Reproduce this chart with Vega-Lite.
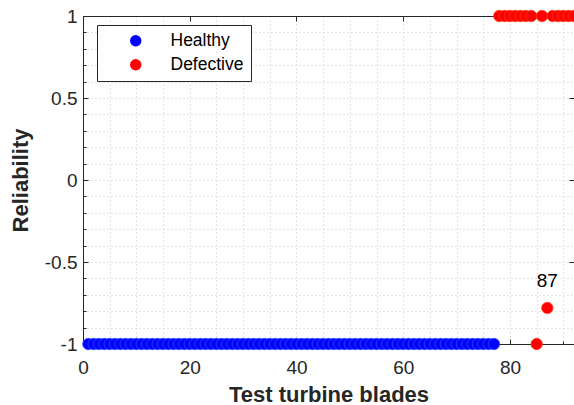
{
  "$schema": "https://vega.github.io/schema/vega-lite/v6.json",
  "width": 491,
  "height": 328,
  "autosize": {"type": "none"},
  "padding": {"left": 83, "top": 16, "right": 0, "bottom": 61},
  "background": "white",
  "config": {
    "view": {"stroke": null},
    "font": "Liberation Sans",
    "axis": {
      "labelFont": "Liberation Sans",
      "titleFont": "Liberation Sans",
      "labelColor": "#262626",
      "titleColor": "#262626",
      "domainColor": "#262626",
      "tickColor": "#262626",
      "gridColor": "#c8c8c8",
      "gridDash": [1, 3],
      "gridWidth": 1
    }
  },
  "data": {
    "values": [
      {"blade": 1, "reliability": -1, "class": "Healthy"},
      {"blade": 2, "reliability": -1, "class": "Healthy"},
      {"blade": 3, "reliability": -1, "class": "Healthy"},
      {"blade": 4, "reliability": -1, "class": "Healthy"},
      {"blade": 5, "reliability": -1, "class": "Healthy"},
      {"blade": 6, "reliability": -1, "class": "Healthy"},
      {"blade": 7, "reliability": -1, "class": "Healthy"},
      {"blade": 8, "reliability": -1, "class": "Healthy"},
      {"blade": 9, "reliability": -1, "class": "Healthy"},
      {"blade": 10, "reliability": -1, "class": "Healthy"},
      {"blade": 11, "reliability": -1, "class": "Healthy"},
      {"blade": 12, "reliability": -1, "class": "Healthy"},
      {"blade": 13, "reliability": -1, "class": "Healthy"},
      {"blade": 14, "reliability": -1, "class": "Healthy"},
      {"blade": 15, "reliability": -1, "class": "Healthy"},
      {"blade": 16, "reliability": -1, "class": "Healthy"},
      {"blade": 17, "reliability": -1, "class": "Healthy"},
      {"blade": 18, "reliability": -1, "class": "Healthy"},
      {"blade": 19, "reliability": -1, "class": "Healthy"},
      {"blade": 20, "reliability": -1, "class": "Healthy"},
      {"blade": 21, "reliability": -1, "class": "Healthy"},
      {"blade": 22, "reliability": -1, "class": "Healthy"},
      {"blade": 23, "reliability": -1, "class": "Healthy"},
      {"blade": 24, "reliability": -1, "class": "Healthy"},
      {"blade": 25, "reliability": -1, "class": "Healthy"},
      {"blade": 26, "reliability": -1, "class": "Healthy"},
      {"blade": 27, "reliability": -1, "class": "Healthy"},
      {"blade": 28, "reliability": -1, "class": "Healthy"},
      {"blade": 29, "reliability": -1, "class": "Healthy"},
      {"blade": 30, "reliability": -1, "class": "Healthy"},
      {"blade": 31, "reliability": -1, "class": "Healthy"},
      {"blade": 32, "reliability": -1, "class": "Healthy"},
      {"blade": 33, "reliability": -1, "class": "Healthy"},
      {"blade": 34, "reliability": -1, "class": "Healthy"},
      {"blade": 35, "reliability": -1, "class": "Healthy"},
      {"blade": 36, "reliability": -1, "class": "Healthy"},
      {"blade": 37, "reliability": -1, "class": "Healthy"},
      {"blade": 38, "reliability": -1, "class": "Healthy"},
      {"blade": 39, "reliability": -1, "class": "Healthy"},
      {"blade": 40, "reliability": -1, "class": "Healthy"},
      {"blade": 41, "reliability": -1, "class": "Healthy"},
      {"blade": 42, "reliability": -1, "class": "Healthy"},
      {"blade": 43, "reliability": -1, "class": "Healthy"},
      {"blade": 44, "reliability": -1, "class": "Healthy"},
      {"blade": 45, "reliability": -1, "class": "Healthy"},
      {"blade": 46, "reliability": -1, "class": "Healthy"},
      {"blade": 47, "reliability": -1, "class": "Healthy"},
      {"blade": 48, "reliability": -1, "class": "Healthy"},
      {"blade": 49, "reliability": -1, "class": "Healthy"},
      {"blade": 50, "reliability": -1, "class": "Healthy"},
      {"blade": 51, "reliability": -1, "class": "Healthy"},
      {"blade": 52, "reliability": -1, "class": "Healthy"},
      {"blade": 53, "reliability": -1, "class": "Healthy"},
      {"blade": 54, "reliability": -1, "class": "Healthy"},
      {"blade": 55, "reliability": -1, "class": "Healthy"},
      {"blade": 56, "reliability": -1, "class": "Healthy"},
      {"blade": 57, "reliability": -1, "class": "Healthy"},
      {"blade": 58, "reliability": -1, "class": "Healthy"},
      {"blade": 59, "reliability": -1, "class": "Healthy"},
      {"blade": 60, "reliability": -1, "class": "Healthy"},
      {"blade": 61, "reliability": -1, "class": "Healthy"},
      {"blade": 62, "reliability": -1, "class": "Healthy"},
      {"blade": 63, "reliability": -1, "class": "Healthy"},
      {"blade": 64, "reliability": -1, "class": "Healthy"},
      {"blade": 65, "reliability": -1, "class": "Healthy"},
      {"blade": 66, "reliability": -1, "class": "Healthy"},
      {"blade": 67, "reliability": -1, "class": "Healthy"},
      {"blade": 68, "reliability": -1, "class": "Healthy"},
      {"blade": 69, "reliability": -1, "class": "Healthy"},
      {"blade": 70, "reliability": -1, "class": "Healthy"},
      {"blade": 71, "reliability": -1, "class": "Healthy"},
      {"blade": 72, "reliability": -1, "class": "Healthy"},
      {"blade": 73, "reliability": -1, "class": "Healthy"},
      {"blade": 74, "reliability": -1, "class": "Healthy"},
      {"blade": 75, "reliability": -1, "class": "Healthy"},
      {"blade": 76, "reliability": -1, "class": "Healthy"},
      {"blade": 77, "reliability": -1, "class": "Healthy"},
      {"blade": 78, "reliability": 1, "class": "Defective"},
      {"blade": 79, "reliability": 1, "class": "Defective"},
      {"blade": 80, "reliability": 1, "class": "Defective"},
      {"blade": 81, "reliability": 1, "class": "Defective"},
      {"blade": 82, "reliability": 1, "class": "Defective"},
      {"blade": 83, "reliability": 1, "class": "Defective"},
      {"blade": 84, "reliability": 1, "class": "Defective"},
      {"blade": 85, "reliability": -1, "class": "Defective"},
      {"blade": 86, "reliability": 1, "class": "Defective"},
      {"blade": 87, "reliability": -0.78, "class": "Defective", "label": "87"},
      {"blade": 88, "reliability": 1, "class": "Defective"},
      {"blade": 89, "reliability": 1, "class": "Defective"},
      {"blade": 90, "reliability": 1, "class": "Defective"},
      {"blade": 91, "reliability": 1, "class": "Defective"},
      {"blade": 92, "reliability": 1, "class": "Defective"}
    ]
  },
  "resolve": {"axis": {"x": "independent", "y": "independent"}},
  "layer": [
    {
      "mark": {"type": "point", "opacity": 0},
      "encoding": {
        "x": {"field": "blade", "type": "quantitative", "scale": {"domain": [0, 92], "nice": false, "zero": false},
          "axis": {"orient": "bottom", "values": [5,10,15,25,30,35,45,50,55,65,70,75,85,90], "labels": false, "domain": false, "tickSize": -3, "title": null, "grid": true}},
        "y": {"field": "reliability", "type": "quantitative", "scale": {"domain": [-1, 1], "nice": false, "zero": false},
          "axis": {"orient": "left", "values": [-0.9,-0.8,-0.7,-0.6,-0.4,-0.3,-0.2,-0.1,0.1,0.2,0.3,0.4,0.6,0.7,0.8,0.9], "labels": false, "domain": false, "tickSize": -3, "title": null, "grid": true}}
      }
    },
    {
      "mark": {"type": "point", "opacity": 0},
      "encoding": {
        "x": {"field": "blade", "type": "quantitative",
          "axis": {"orient": "top", "values": [0, 20, 40, 60, 80], "labels": false, "domain": true, "tickSize": -5, "title": null, "grid": false}},
        "y": {"field": "reliability", "type": "quantitative",
          "axis": {"orient": "right", "values": [-1, -0.5, 0, 0.5, 1], "labels": false, "domain": true, "tickSize": -5, "title": null, "grid": false}}
      }
    },
    {
      "mark": {"type": "circle", "size": 130, "opacity": 1, "strokeWidth": 0.8, "clip": false},
      "encoding": {
        "x": {"field": "blade", "type": "quantitative",
          "axis": {"orient": "bottom", "values": [0, 20, 40, 60, 80], "labelExpr": "datum.value + ''", "labelFlush": false, "tickSize": -5, "labelPadding": 19, "labelFontSize": 19, "title": "Test turbine blades", "titleFontSize": 22, "titleFontWeight": "bold", "titlePadding": 7, "grid": true, "domain": true}},
        "y": {"field": "reliability", "type": "quantitative",
          "axis": {"orient": "left", "values": [-1, -0.5, 0, 0.5, 1], "labelExpr": "datum.value + ''", "labelFlush": false, "tickSize": -5, "labelPadding": 11, "labelFontSize": 19, "title": "Reliability", "titleFontSize": 22, "titleFontWeight": "bold", "titlePadding": 12, "grid": true, "domain": true}},
        "color": {"field": "class", "type": "nominal",
          "scale": {"domain": ["Healthy", "Defective"], "range": ["#0000ff", "#ff0000"]},
          "legend": {"orient": "none", "legendX": 14, "legendY": 9, "title": null, "strokeColor": "#262626", "fillColor": "white", "padding": 7, "symbolType": "circle", "symbolSize": 130, "symbolStrokeWidth": 0, "symbolOffset": 23, "labelOffset": 26, "labelFontSize": 17.5, "labelFont": "Liberation Sans", "labelColor": "#000000", "rowPadding": 5}},
        "stroke": {"field": "class", "type": "nominal",
          "scale": {"domain": ["Healthy", "Defective"], "range": ["#2a4dff", "#ff3a1a"]}, "legend": null}
      }
    },
    {
      "transform": [{"filter": "datum.label != null"}],
      "mark": {"type": "text", "fontSize": 19, "dy": -27, "color": "#000000", "font": "Liberation Sans"},
      "encoding": {
        "x": {"field": "blade", "type": "quantitative", "axis": null},
        "y": {"field": "reliability", "type": "quantitative", "axis": null},
        "text": {"field": "label"}
      }
    }
  ]
}
